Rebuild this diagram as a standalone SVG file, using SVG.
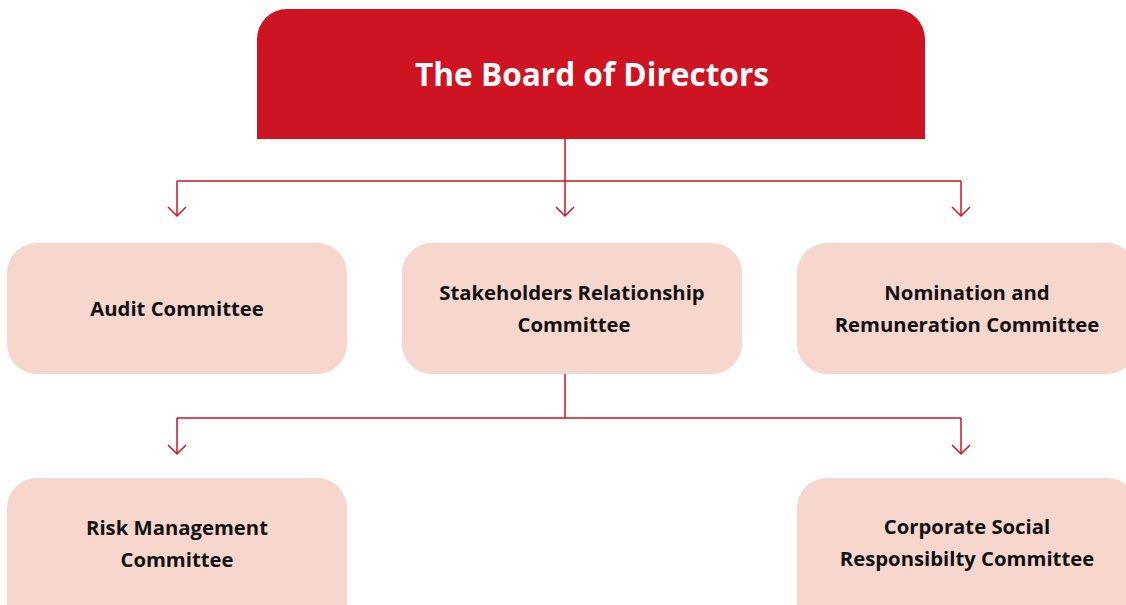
<svg xmlns="http://www.w3.org/2000/svg" width="1126" height="605" viewBox="0 0 1126 605">
<defs>
<style>
.conn{fill:none;stroke:#CE1323;stroke-width:1.5}
.box{fill:#F7D6CE}
.lbl{font-family:"Open Sans","Liberation Sans",sans-serif;font-weight:700;font-size:20.3px;fill:#111;text-anchor:middle}
.title{font-family:"Open Sans","Liberation Sans",sans-serif;font-weight:700;font-size:31.6px;fill:#fff;text-anchor:middle}
</style>
</defs>
<rect width="1126" height="605" fill="#fff"/>
<g id="connectors">
<path class="conn" d="M565 139V216M177 181H961M177 181V216M961 181V216"/>
<path class="conn" d="M168 207L177 216L186 207M556 207L565 216L574 207M952 207L961 216L970 207"/>
<path class="conn" d="M565 374V418M177 418H961M177 418V454M961 418V454"/>
<path class="conn" d="M168 445L177 454L186 445M952 445L961 454L970 445"/>
</g>
<g id="board">
<path d="M257 139V39A30 30 0 0 1 287 9H895A30 30 0 0 1 925 39V139Z" fill="#CE1323"/>
<text class="title" x="592" y="86">The Board of Directors</text>
</g>
<g id="audit">
<rect class="box" x="7" y="243" width="340" height="131" rx="30"/>
<text class="lbl" x="177" y="316">Audit Committee</text>
</g>
<g id="stakeholders">
<rect class="box" x="402" y="243" width="340" height="131" rx="30"/>
<text class="lbl" x="572" y="300">Stakeholders Relationship</text>
<text class="lbl" x="574" y="332">Committee</text>
</g>
<g id="nomination">
<rect class="box" x="797" y="243" width="340" height="131" rx="30"/>
<text class="lbl" x="967" y="300">Nomination and</text>
<text class="lbl" x="967" y="332">Remuneration Committee</text>
</g>
<g id="risk">
<rect class="box" x="7" y="478" width="340" height="160" rx="30"/>
<text class="lbl" x="177" y="535">Risk Management</text>
<text class="lbl" x="177" y="567">Committee</text>
</g>
<g id="csr">
<rect class="box" x="797" y="478" width="340" height="160" rx="30"/>
<text class="lbl" x="967" y="534">Corporate Social</text>
<text class="lbl" x="967" y="566">Responsibilty Committee</text>
</g>
</svg>
